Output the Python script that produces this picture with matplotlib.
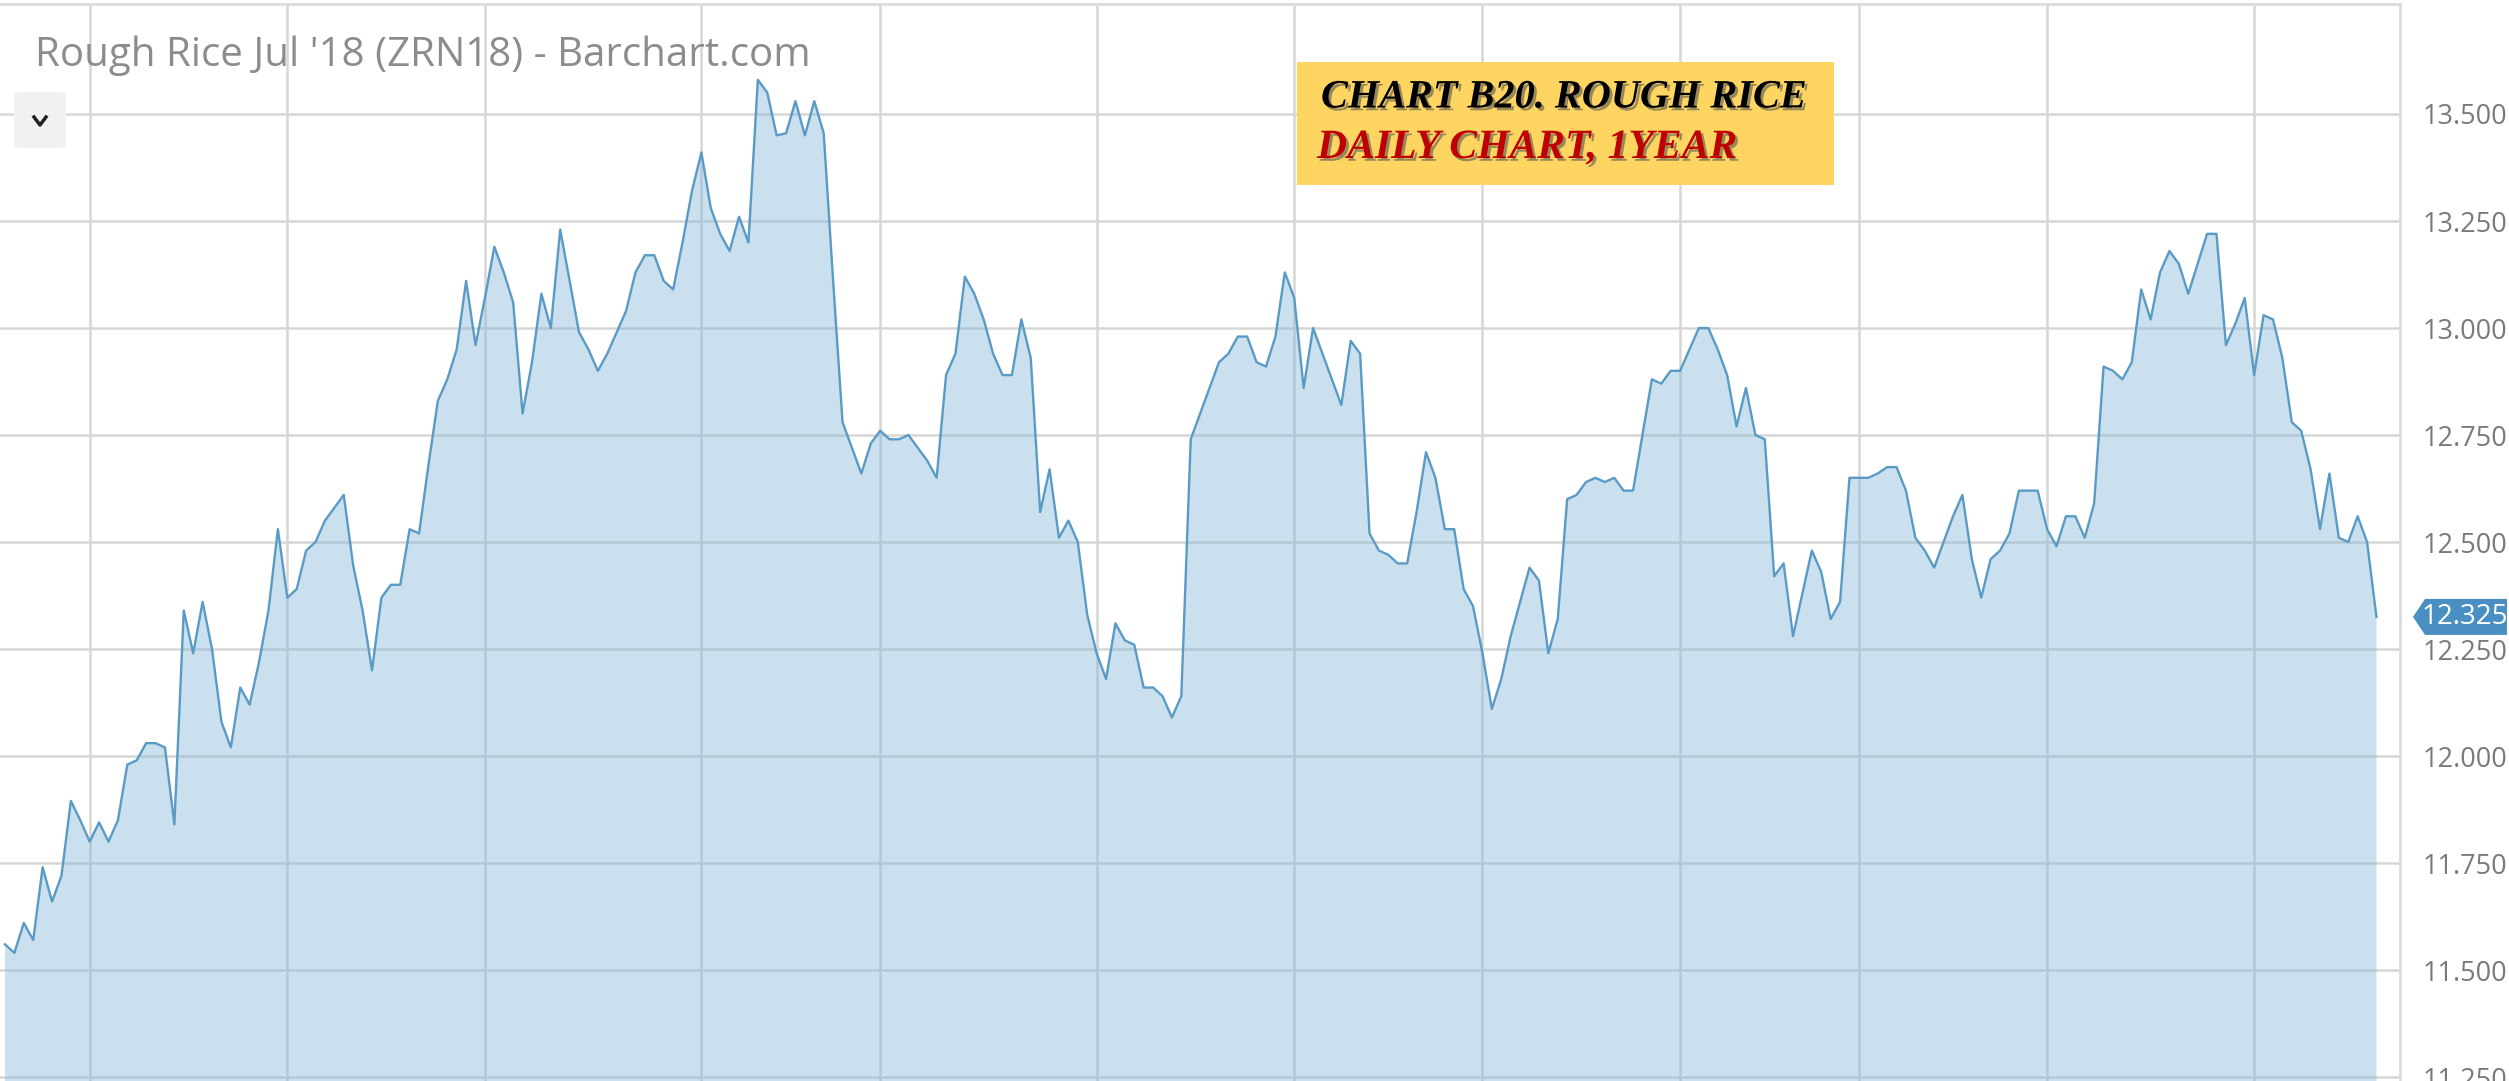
import numpy as np
import pandas as pd
import matplotlib
matplotlib.use("Agg")
import matplotlib.pyplot as plt
import matplotlib.patheffects as pe
from matplotlib.patches import Rectangle, FancyBboxPatch, Polygon
from matplotlib.lines import Line2D

# daily closes, Rough Rice Jul '18 (ZRN18), one year of trading days
closes = [
    11.56, 11.54, 11.61, 11.57, 11.74, 11.66, 11.72, 11.895, 11.85, 11.80,
    11.845, 11.80, 11.85, 11.98, 11.99, 12.03, 12.03, 12.02, 11.84, 12.34,
    12.24, 12.36, 12.25, 12.08, 12.02, 12.16, 12.12, 12.22, 12.34, 12.53,
    12.37, 12.39, 12.48, 12.50, 12.55, 12.58, 12.61, 12.445, 12.34, 12.20,
    12.37, 12.40, 12.40, 12.53, 12.52, 12.68, 12.83, 12.88, 12.95, 13.11,
    12.96, 13.07, 13.19, 13.13, 13.06, 12.80, 12.92, 13.08, 13.00, 13.23,
    13.11, 12.99, 12.95, 12.90, 12.94, 12.99, 13.04, 13.13, 13.17, 13.17,
    13.11, 13.09, 13.20, 13.32, 13.41, 13.28, 13.22, 13.18, 13.26, 13.20,
    13.58, 13.55, 13.45, 13.455, 13.53, 13.45, 13.53, 13.455, 13.11, 12.78,
    12.72, 12.66, 12.73, 12.76, 12.74, 12.74, 12.75, 12.72, 12.69, 12.65,
    12.89, 12.94, 13.12, 13.08, 13.02, 12.94, 12.89, 12.89, 13.02, 12.93,
    12.57, 12.67, 12.51, 12.55, 12.50, 12.33, 12.24, 12.18, 12.31, 12.27,
    12.26, 12.16, 12.16, 12.14, 12.09, 12.14, 12.74, 12.80, 12.86, 12.92,
    12.94, 12.98, 12.98, 12.92, 12.91, 12.98, 13.13, 13.07, 12.86, 13.00,
    12.94, 12.88, 12.82, 12.97, 12.94, 12.52, 12.48, 12.47, 12.45, 12.45,
    12.57, 12.71, 12.65, 12.53, 12.53, 12.39, 12.35, 12.24, 12.11, 12.18,
    12.28, 12.36, 12.44, 12.41, 12.24, 12.32, 12.60, 12.61, 12.64, 12.65,
    12.64, 12.65, 12.62, 12.62, 12.75, 12.88, 12.87, 12.90, 12.90, 12.95,
    13.00, 13.00, 12.95, 12.89, 12.77, 12.86, 12.75, 12.74, 12.42, 12.45,
    12.28, 12.38, 12.48, 12.43, 12.32, 12.36, 12.65, 12.65, 12.65, 12.66,
    12.675, 12.675, 12.62, 12.51, 12.48, 12.44, 12.50, 12.56, 12.61, 12.46,
    12.37, 12.46, 12.48, 12.52, 12.62, 12.62, 12.62, 12.53, 12.49, 12.56,
    12.56, 12.51, 12.59, 12.91, 12.90, 12.88, 12.92, 13.09, 13.02, 13.13,
    13.18, 13.15, 13.08, 13.15, 13.22, 13.22, 12.96, 13.01, 13.07, 12.89,
    13.03, 13.02, 12.93, 12.78, 12.76, 12.67, 12.53, 12.66, 12.51, 12.50,
    12.56, 12.50, 12.325,
]

# first trading day of each month (index into closes)
month_starts = [9, 30, 51, 74, 93, 116, 137, 157, 178, 197, 217, 239]

price_ticks = [11.25, 11.50, 11.75, 12.00, 12.25, 12.50, 12.75, 13.00, 13.25, 13.50]

title = "Rough Rice Jul '18 (ZRN18) - Barchart.com"
note_line1 = "CHART B20. ROUGH RICE"
note_line2 = "DAILY CHART, 1YEAR"

W, H = 2509, 1081
df = pd.DataFrame({"close": closes})

fig = plt.figure(figsize=(W / 100, H / 100), dpi=100)
fig.patch.set_facecolor("white")


def fx(x):
    return x / W


def fy(y):
    # y measured from the top of the picture, in pixels
    return 1 - y / H


ax = fig.add_axes([0, 0, fx(2400), 1 - 4 / H])
ax.set_facecolor("white")

x = df.index.values
y = df["close"].values
ax.fill_between(x, y, 10.0, color="#7fb3d5", alpha=0.4, linewidth=0, zorder=2)
ax.plot(x, y, color="#5a9bc5", linewidth=1.7, zorder=3)

ax.set_xlim(-0.53, 254.5)
ax.set_ylim(11.2407, 13.757)

ax.set_yticks(price_ticks)
ax.set_yticklabels([f"{v:.3f}" for v in price_ticks])
ax.set_xticks(month_starts)
ax.set_xticklabels([])
ax.yaxis.tick_right()
ax.tick_params(axis="both", length=0)
ax.tick_params(axis="y", pad=16.5, labelsize=19.5, labelcolor="#7a7a7a")
for lab in ax.get_yticklabels():
    lab.set_fontfamily("Open Sans")
    lab.set_horizontalalignment("left")

ax.set_axisbelow(True)
ax.grid(True, color="#d6d6d6", linewidth=1.8)
for side in ["left", "bottom"]:
    ax.spines[side].set_visible(False)
for side in ["top", "right"]:
    ax.spines[side].set_color("#dcdcdc")
    ax.spines[side].set_linewidth(2)

# title
fig.text(fx(35), fy(66), title, fontsize=29, color="#8c8c8c",
         family="Open Sans", va="baseline", ha="left")

# dropdown button
fig.add_artist(FancyBboxPatch((fx(14), fy(148)), fx(52), 56 / H,
                              boxstyle="round,pad=0,rounding_size=0.003",
                              transform=fig.transFigure, facecolor="#f1f1f1",
                              edgecolor="none"))
fig.add_artist(Line2D([fx(34), fx(40), fx(46)], [fy(117), fy(125), fy(117)],
                      transform=fig.transFigure, color="#222222", linewidth=2.5))

# yellow note box
fig.add_artist(Rectangle((fx(1297), fy(185)), fx(1834) - fx(1297), 123 / H,
                         transform=fig.transFigure, facecolor="#fdd560",
                         edgecolor="none", zorder=5))
shadow = [pe.withSimplePatchShadow(offset=(2, -2), shadow_rgbFace="#555555", alpha=0.6)]
fig.text(fx(1321), fy(98), note_line1, fontsize=29, color="black",
         family="Liberation Serif", weight="bold", style="italic",
         va="center", ha="left", zorder=6, path_effects=shadow)
fig.text(fx(1317), fy(148), note_line2, fontsize=30, color="#c00000",
         family="Liberation Serif", weight="bold", style="italic",
         va="center", ha="left", zorder=6, path_effects=shadow)

# last price tag
last = closes[-1]
tag_y = ax.transData.transform((0, last))[1] / H  # figure fraction
half = 18 / H
tag = Polygon([(fx(2413), tag_y), (fx(2425), tag_y + half), (fx(2507), tag_y + half),
               (fx(2507), tag_y - half), (fx(2425), tag_y - half)],
              closed=True, transform=fig.transFigure, facecolor="#4a8fc2",
              edgecolor="none", zorder=5)
fig.add_artist(tag)
fig.text(fx(2465), tag_y, f"{last:.3f}", fontsize=20, color="white",
         family="Open Sans", va="center", ha="center", zorder=6)

fig.savefig("out.png", dpi=100)
